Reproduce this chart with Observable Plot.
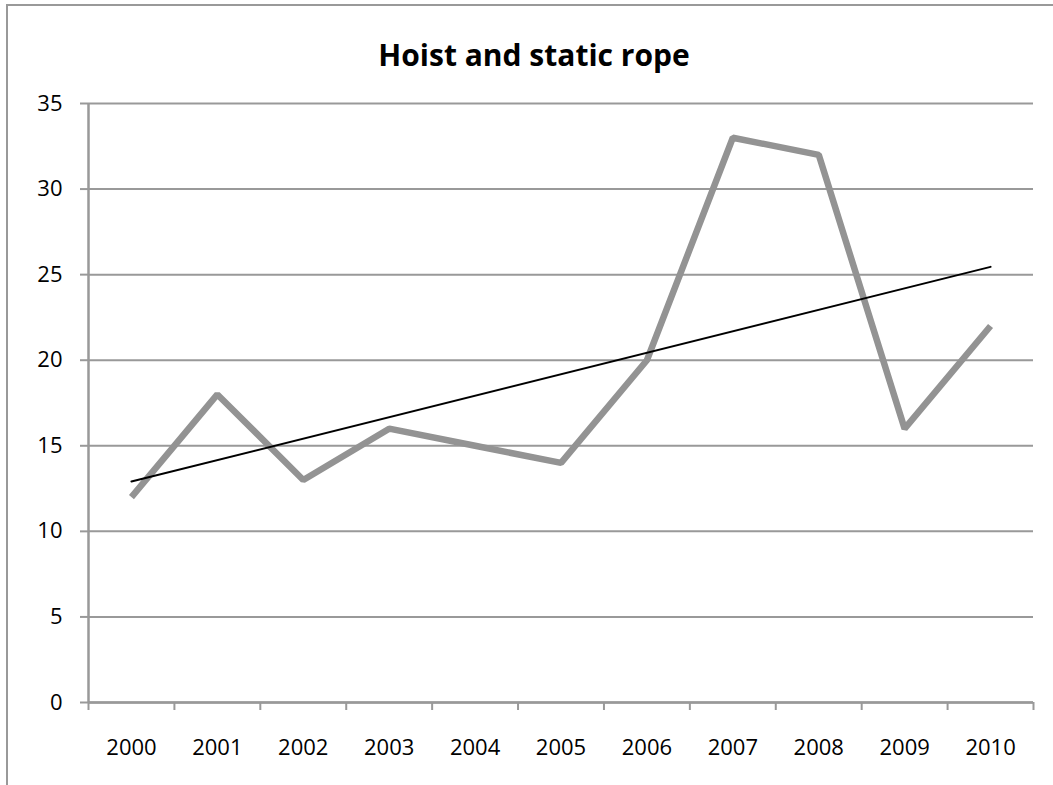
<!DOCTYPE html>
<html>
<head>
<meta charset="utf-8">
<script src="https://cdn.jsdelivr.net/npm/d3@7"></script>
<script src="https://cdn.jsdelivr.net/npm/@observablehq/plot@0.6"></script>
<style>
  html, body { margin: 0; padding: 0; background: #fff; overflow: hidden; }
  #wrap { position: relative; width: 1053px; height: 785px; }
  #frame { position: absolute; left: 6px; top: 4px; width: 1100px; height: 900px;
           border-left: 2.5px solid #999; border-top: 2.5px solid #999; box-sizing: border-box; }
  #title { position: relative; height: 80px; line-height: 40px; text-align: center;
           font-family: "Open Sans", sans-serif; font-weight: bold; font-size: 30px; color: #000;
           padding-left: 15px; padding-top: 35px; box-sizing: border-box; }
  #chart { position: relative; }
</style>
</head>
<body>
<div id="wrap">
  <div id="frame"></div>
  <div id="title">Hoist and static rope</div>
  <div id="chart"></div>
</div>
<script>
const years = ["2000","2001","2002","2003","2004","2005","2006","2007","2008","2009","2010"];
const values = [12, 18, 13, 16, 15, 14, 20, 33, 32, 16, 22];
const yTicks = [0, 5, 10, 15, 20, 25, 30, 35];

const data = years.map((yr, i) => ({i, year: yr, value: values[i]}));
const boundaries = years.map((_, i) => i - 0.5).concat([years.length - 0.5]);
const centers = years.map((_, i) => i);

const grey = "#999999";

const chart = Plot.plot({
  width: 1053,
  height: 705,
  marginLeft: 88,
  marginRight: 20,
  marginTop: 23,
  marginBottom: 83,
  style: { fontFamily: "'Open Sans', sans-serif", fontSize: "22px", color: "#000", background: "transparent" },
  x: { type: "linear", domain: [-0.5, years.length - 0.5] },
  y: { domain: [0, 35] },
  marks: [
    Plot.gridY(yTicks, { stroke: grey, strokeOpacity: 1, strokeWidth: 2 }),
    Plot.axisY(yTicks, { tickSize: 8, tickPadding: 18, stroke: grey, strokeWidth: 2, fill: "#000", label: null, tickFormat: d => String(d) }),
    Plot.axisX(boundaries, { tickSize: 8, tickFormat: () => "", stroke: grey, strokeWidth: 2, label: null }),
    Plot.axisX(centers, { tickSize: 0, tickPadding: 37, tickFormat: i => years[i], fill: "#000", label: null }),
    Plot.ruleX([-0.5], { stroke: grey, strokeWidth: 2.5 }),
    Plot.ruleY([0], { stroke: grey, strokeWidth: 2.5 }),
    Plot.line(data, { x: "i", y: "value", stroke: "#939393", strokeWidth: 6.5, strokeLinejoin: "miter", strokeLinecap: "butt" }),
    Plot.linearRegressionY(data, { x: "i", y: "value", stroke: "#000", strokeWidth: 2, ci: 0 })
  ]
});
document.getElementById("chart").appendChild(chart);
</script>
</body>
</html>
